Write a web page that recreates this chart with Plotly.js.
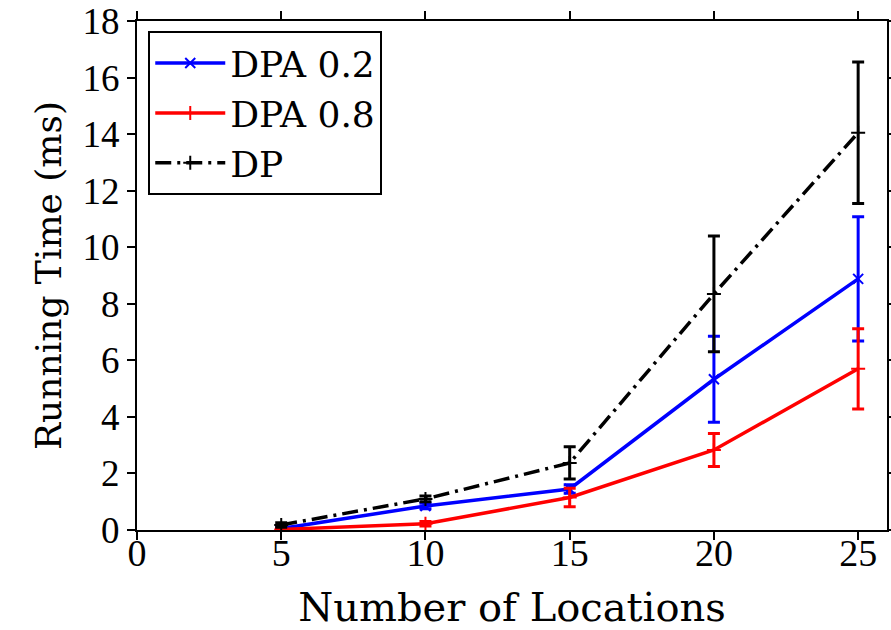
<!DOCTYPE html>
<html>
<head>
<meta charset="utf-8">
<script src="https://cdn.plot.ly/plotly-3.0.1.min.js"></script>
<style>html,body{margin:0;padding:0;background:#fff;}#chart{width:891px;height:630px;}</style>
</head>
<body>
<div id="chart"></div>
<script>
const locations = [5, 10, 15, 20, 25];
const dpa02 = [0.05, 0.85, 1.45, 5.33, 8.88];
const dpa02Err = [0.05, 0.1, 0.15, 1.52, 2.2];
const dpa08 = [0.02, 0.22, 1.15, 2.83, 5.7];
const dpa08Err = [0.03, 0.08, 0.33, 0.58, 1.42];
const dp = [0.18, 1.1, 2.37, 8.35, 14.05];
const dpErr = [0.08, 0.1, 0.57, 2.05, 2.5];
const xTicks = [0, 5, 10, 15, 20, 25];
const yTicks = [0, 2, 4, 6, 8, 10, 12, 14, 16, 18];

const serif = 'DejaVu Serif, serif';
const tickFont = 'Liberation Serif, serif';

function series(name, y, err, color, symbol, dash) {
  return {
    x: locations, y: y, name: name, type: 'scatter', mode: 'lines+markers',
    line: {color: color, width: 3.5, dash: dash},
    marker: {symbol: symbol, size: 10, color: color, line: {color: color, width: 2}},
    error_y: {type: 'data', array: err, visible: true, color: color, thickness: 3, width: 6}
  };
}

const data = [
  series('DPA 0.2', dpa02, dpa02Err, '#0000ff', 'x-thin', 'solid'),
  series('DPA 0.8', dpa08, dpa08Err, '#ff0000', 'cross-thin', 'solid'),
  series('DP', dp, dpErr, '#000000', 'cross-thin', '16px,6px,3px,6px')
];

const layout = {
  width: 891, height: 630,
  margin: {l: 137, r: 4, t: 21, b: 100},
  paper_bgcolor: '#fff', plot_bgcolor: '#fff',
  showlegend: true,
  legend: {
    x: 0.015, y: 0.98, xanchor: 'left', yanchor: 'top',
    bordercolor: '#000', borderwidth: 2, bgcolor: '#fff',
    font: {family: serif, size: 36, color: '#000'},
    tracegroupgap: 0, itemwidth: 70
  },
  xaxis: {
    range: [0, 26], tickvals: xTicks, ticktext: xTicks.map(String),
    showgrid: false, zeroline: false, showline: true, linecolor: '#000', linewidth: 2,
    mirror: 'ticks', ticks: 'outside', ticklen: 8, tickwidth: 2, tickcolor: '#000',
    ticklabelstandoff: -20, ticklabeloverflow: 'allow',
    tickfont: {family: tickFont, size: 38, color: '#000'},
    title: {text: 'Number of Locations', font: {family: serif, size: 40, color: '#000'}, standoff: 22}
  },
  yaxis: {
    range: [0, 18], tickvals: yTicks, ticktext: yTicks.map(String),
    showgrid: false, zeroline: false, showline: true, linecolor: '#000', linewidth: 2,
    mirror: 'ticks', ticks: 'outside', ticklen: 8, tickwidth: 2, tickcolor: '#000',
    ticklabeloverflow: 'allow',
    tickfont: {family: tickFont, size: 37, color: '#000'},
    title: {text: 'Running Time (ms)', font: {family: serif, size: 36, color: '#000'}, standoff: 10}
  }
};

Plotly.newPlot('chart', data, layout, {displayModeBar: false, staticPlot: true});
</script>
</body>
</html>
